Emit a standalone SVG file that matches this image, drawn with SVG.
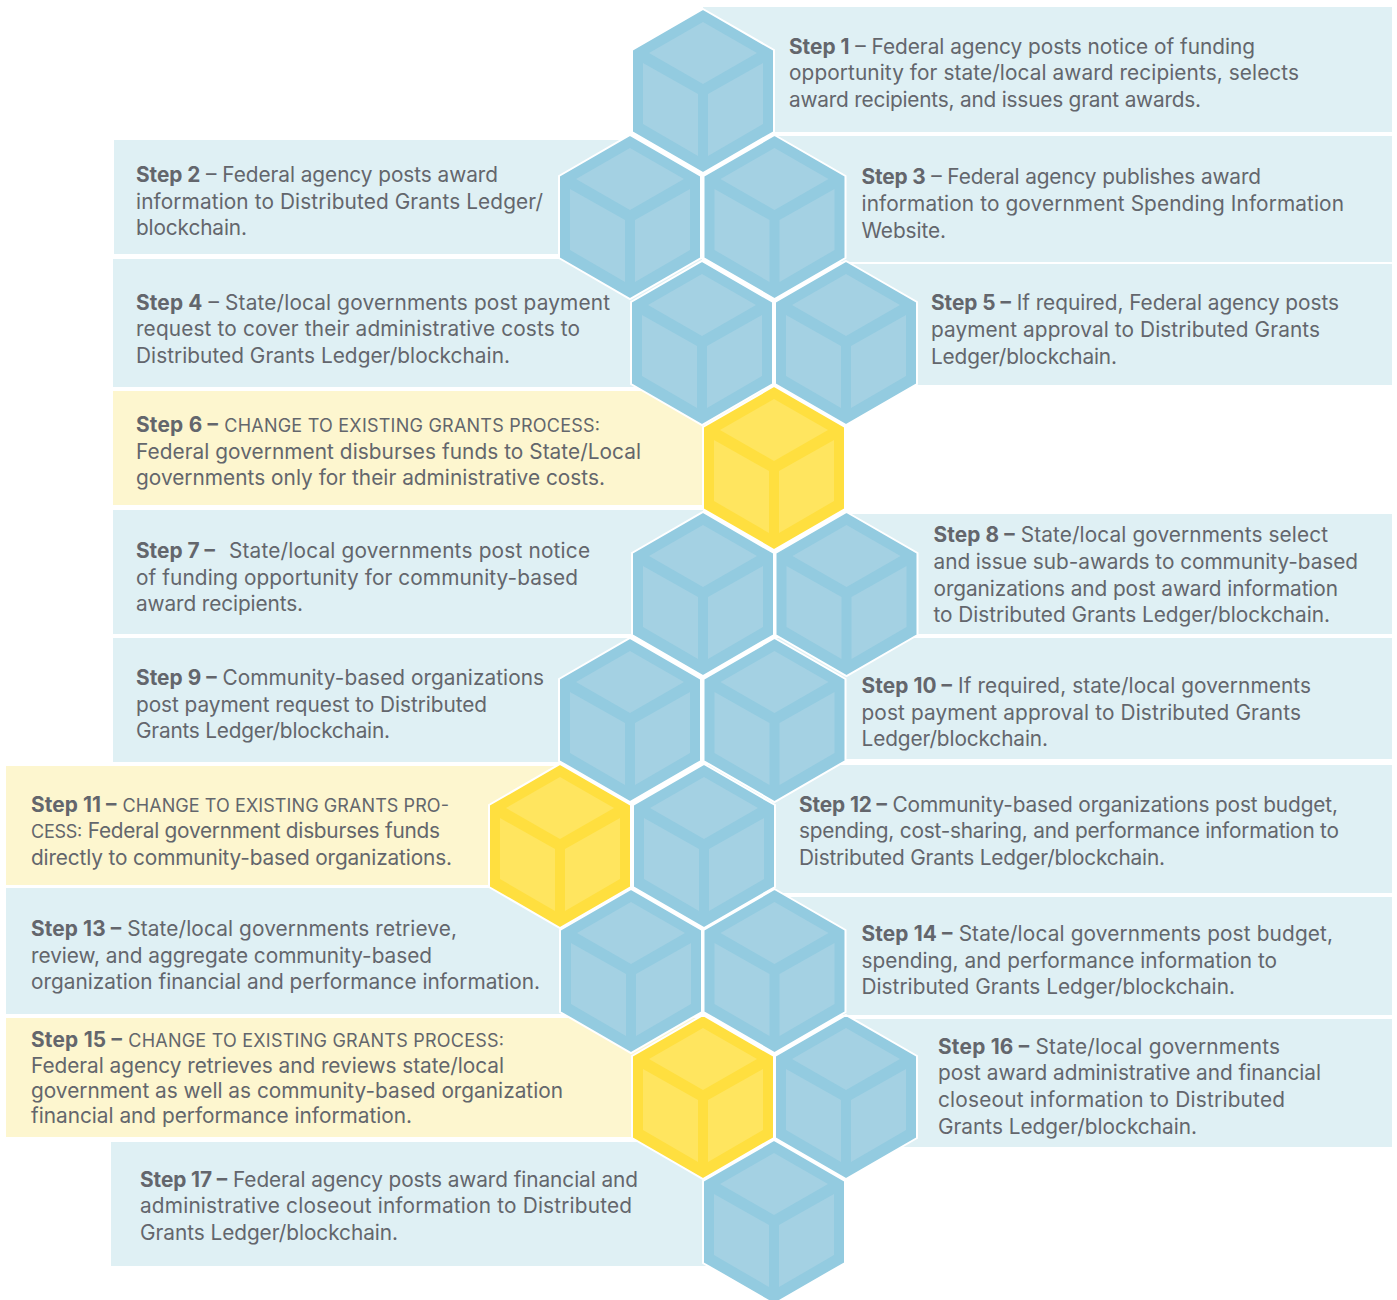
<svg xmlns="http://www.w3.org/2000/svg" width="1397" height="1300" viewBox="0 0 1397 1300">
<style>
text{font-family:"Inter","Liberation Sans",sans-serif;font-size:20.8px;fill:#63666c;transform:translateY(.4px)}
.s{font-weight:700}
.c{font-size:18px}
.pb{fill:#dff0f4}
.py{fill:#fdf6cf}
.bo{fill:#93cbe0;stroke:#fff;stroke-width:2}
.bf{fill:#a4d1e3}
.yo{fill:#ffdf3f;stroke:#fff;stroke-width:2}
.yf{fill:#ffe55f}
</style>
<defs>
<g id="hb"><polygon class="bo" points="0,-82 71,-41 71,41 0,82 -71,41 -71,-41"/><polygon class="bf" points="0,-69 54,-38 0,-7 -54,-38"/><polygon class="bf" points="-60,-28 -5,3 -5,65 -60,33"/><polygon class="bf" points="60,-28 5,3 5,65 60,33"/></g>
<g id="hy"><polygon class="yo" points="0,-82 71,-41 71,41 0,82 -71,41 -71,-41"/><polygon class="yf" points="0,-69 54,-38 0,-7 -54,-38"/><polygon class="yf" points="-60,-28 -5,3 -5,65 -60,33"/><polygon class="yf" points="60,-28 5,3 5,65 60,33"/></g>
</defs>
<g id="panels">
<rect class="pb" x="703" y="7" width="689" height="125"/>
<rect class="pb" x="775" y="136" width="617" height="126"/>
<rect class="pb" x="846" y="264" width="546" height="121"/>
<rect class="pb" x="114" y="140" width="516" height="114"/>
<rect class="pb" x="113" y="259" width="589" height="128"/>
<rect class="py" x="113" y="391" width="661" height="114"/>
<rect class="pb" x="113" y="510" width="590" height="124"/>
<rect class="pb" x="847" y="514" width="545" height="120"/>
<rect class="pb" x="113" y="638" width="517" height="124"/>
<rect class="pb" x="775" y="638" width="617" height="121"/>
<rect class="py" x="6" y="766" width="554" height="119"/>
<rect class="pb" x="704" y="765" width="688" height="128"/>
<rect class="pb" x="6" y="888" width="625" height="126"/>
<rect class="pb" x="775" y="897" width="617" height="118"/>
<rect class="py" x="6" y="1018" width="697" height="119"/>
<rect class="pb" x="846" y="1019" width="546" height="128"/>
<rect class="pb" x="111" y="1142" width="663" height="124"/>
</g>
<g id="connectors"/>
<g id="step1"><use href="#hb" x="703" y="91"/><text x="789" y="54" textLength="466"><tspan class="s">Step 1</tspan> – Federal agency posts notice of funding</text><text x="789" y="80" textLength="510">opportunity for state/local award recipients, selects</text><text x="789" y="107" textLength="412">award recipients, and issues grant awards.</text></g>
<g id="step2"><use href="#hb" x="630" y="217"/><text x="136" y="182" textLength="362"><tspan class="s">Step 2</tspan> – Federal agency posts award</text><text x="136" y="209" textLength="407">information to Distributed Grants Ledger/</text><text x="136" y="235" textLength="111">blockchain.</text></g>
<g id="step3"><use href="#hb" x="774.5" y="217"/><text x="861.5" y="184" textLength="399.5"><tspan class="s">Step 3</tspan> – Federal agency publishes award</text><text x="861.5" y="211" textLength="482.5">information to government Spending Information</text><text x="861.5" y="238" textLength="84.5">Website.</text></g>
<g id="step4"><use href="#hb" x="702" y="343"/><text x="136" y="310" textLength="474"><tspan class="s">Step 4</tspan> – State/local governments post payment</text><text x="136" y="336" textLength="444">request to cover their administrative costs to</text><text x="136" y="363" textLength="374">Distributed Grants Ledger/blockchain.</text></g>
<g id="step5"><use href="#hb" x="846" y="343"/><text x="931" y="310" textLength="408"><tspan class="s">Step 5 –</tspan> If required, Federal agency posts</text><text x="931" y="337" textLength="389">payment approval to Distributed Grants</text><text x="931" y="364" textLength="186">Ledger/blockchain.</text></g>
<g id="step6"><use href="#hy" x="774" y="468"/><text x="136" y="432" textLength="464"><tspan class="s">Step 6 –</tspan> <tspan class="c">CHANGE TO EXISTING GRANTS PROCESS:</tspan></text><text x="136" y="459" textLength="505">Federal government disburses funds to State/Local</text><text x="136" y="485" textLength="469">governments only for their administrative costs.</text></g>
<g id="step7"><use href="#hb" x="703" y="594"/><text x="136" y="558"><tspan class="s">Step 7 –</tspan></text><text x="229" y="558" textLength="361">State/local governments post notice</text><text x="136" y="585" textLength="442">of funding opportunity for community-based</text><text x="136" y="611" textLength="167">award recipients.</text></g>
<g id="step8"><use href="#hb" x="846.5" y="594"/><text x="933.5" y="542" textLength="394.5"><tspan class="s">Step 8 –</tspan> State/local governments select</text><text x="933.5" y="569" textLength="424.5">and issue sub-awards to community-based</text><text x="933.5" y="596" textLength="404.5">organizations and post award information</text><text x="933.5" y="622" textLength="396.5">to Distributed Grants Ledger/blockchain.</text></g>
<g id="step9"><use href="#hb" x="630" y="720"/><text x="136" y="685" textLength="408"><tspan class="s">Step 9 –</tspan> Community-based organizations</text><text x="136" y="712" textLength="351">post payment request to Distributed</text><text x="136" y="738" textLength="254">Grants Ledger/blockchain.</text></g>
<g id="step10"><use href="#hb" x="774.5" y="720"/><text x="861.5" y="693" textLength="449.5"><tspan class="s">Step 10 –</tspan> If required, state/local governments</text><text x="861.5" y="720" textLength="439.5">post payment approval to Distributed Grants</text><text x="861.5" y="746" textLength="186.5">Ledger/blockchain.</text></g>
<g id="step11"><use href="#hy" x="560" y="846"/><text x="31" y="812" textLength="418"><tspan class="s">Step 11 –</tspan> <tspan class="c">CHANGE TO EXISTING GRANTS PRO-</tspan></text><text x="31" y="838" textLength="409"><tspan class="c">CESS:</tspan> Federal government disburses funds</text><text x="31" y="865" textLength="421">directly to community-based organizations.</text></g>
<g id="step12"><use href="#hb" x="704" y="846"/><text x="799" y="812" textLength="539"><tspan class="s">Step 12 –</tspan> Community-based organizations post budget,</text><text x="799" y="838" textLength="540">spending, cost-sharing, and performance information to</text><text x="799" y="865" textLength="366">Distributed Grants Ledger/blockchain.</text></g>
<g id="step13"><use href="#hb" x="631" y="971"/><text x="31" y="936" textLength="426"><tspan class="s">Step 13 –</tspan> State/local governments retrieve,</text><text x="31" y="963" textLength="401">review, and aggregate community-based</text><text x="31" y="989" textLength="509">organization financial and performance information.</text></g>
<g id="step14"><use href="#hb" x="774.5" y="971"/><text x="861.5" y="941" textLength="471.5"><tspan class="s">Step 14 –</tspan> State/local governments post budget,</text><text x="861.5" y="968" textLength="415.5">spending, and performance information to</text><text x="861.5" y="994" textLength="373.5">Distributed Grants Ledger/blockchain.</text></g>
<g id="step15"><use href="#hy" x="703" y="1097"/><text x="31" y="1047" textLength="473"><tspan class="s">Step 15 –</tspan> <tspan class="c">CHANGE TO EXISTING GRANTS PROCESS:</tspan></text><text x="31" y="1073" textLength="473">Federal agency retrieves and reviews state/local</text><text x="31" y="1098" textLength="532">government as well as community-based organization</text><text x="31" y="1123" textLength="381">financial and performance information.</text></g>
<g id="step16"><use href="#hb" x="846" y="1097"/><text x="938" y="1054" textLength="342"><tspan class="s">Step 16 –</tspan> State/local governments</text><text x="938" y="1080" textLength="383">post award administrative and financial</text><text x="938" y="1107" textLength="347">closeout information to Distributed</text><text x="938" y="1134" textLength="259">Grants Ledger/blockchain.</text></g>
<g id="step17"><use href="#hb" x="774" y="1222"/><text x="140" y="1187" textLength="498"><tspan class="s">Step 17 –</tspan> Federal agency posts award financial and</text><text x="140" y="1213" textLength="492">administrative closeout information to Distributed</text><text x="140" y="1240" textLength="258">Grants Ledger/blockchain.</text></g>
</svg>
